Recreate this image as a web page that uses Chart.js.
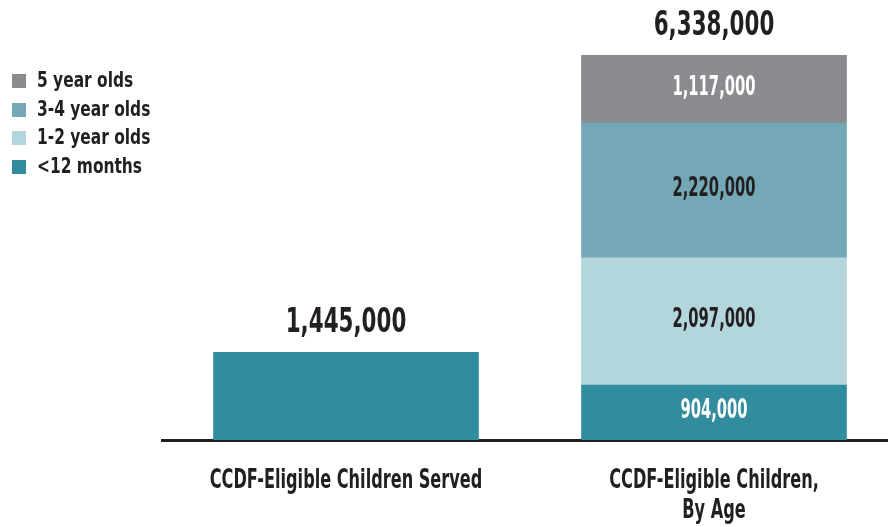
<!DOCTYPE html>
<html>
<head>
<meta charset="utf-8">
<script src="https://cdn.jsdelivr.net/npm/chart.js@4/dist/chart.umd.min.js"></script>
<style>
  body { margin: 0; overflow: hidden; background: #fff; }
  #wrap { position: relative; width: 888px; height: 527px; overflow: hidden; }
  #chart { position: absolute; left: 0; top: 0; }
  #legend { position: absolute; left: 12px; top: 66px; font-family: 'DejaVu Sans Condensed', 'Liberation Sans Narrow', sans-serif; font-weight: bold; font-size: 22px; color: #231f20; }
  #legend div { height: 28.5px; line-height: 28px; white-space: nowrap; }
  #legend span.box { display: inline-block; width: 14px; height: 14px; margin-right: 11px; vertical-align: -1px; }
  #legend span.txt { display: inline-block; transform: scaleX(0.78); transform-origin: left center; }
</style>
</head>
<body>
<div id="wrap">
  <canvas id="chart" width="898" height="527"></canvas>
  <div id="legend"></div>
</div>
<script>
const FONT = "'DejaVu Sans Condensed', 'Liberation Sans Narrow', sans-serif";

// data
const categories = [['CCDF-Eligible Children Served'], ['CCDF-Eligible Children,', 'By Age']];
const servedValues = [1445000, null];
const under12Values = [null, 904000];
const age12Values = [null, 2097000];
const age34Values = [null, 2220000];
const age5Values = [null, 1117000];

const TEAL = '#318d9e';
const LIGHT = '#b3d5dc';
const MID = '#74a8b7';
const GRAY = '#8a8b8f';
const INK = '#231f20';

const fmt = v => v.toLocaleString('en-US');

// legend, top item first
const legendItems = [
  { label: '5 year olds', color: GRAY },
  { label: '3-4 year olds', color: MID },
  { label: '1-2 year olds', color: LIGHT },
  { label: '<12 months', color: TEAL }
];
const legendEl = document.querySelector('#legend');
legendItems.forEach(item => {
  const row = document.createElement('div');
  const box = document.createElement('span');
  box.className = 'box';
  box.style.background = item.color;
  const txt = document.createElement('span');
  txt.className = 'txt';
  txt.textContent = item.label;
  row.appendChild(box);
  row.appendChild(txt);
  legendEl.appendChild(row);
});

// draws text squeezed horizontally, the original type is very condensed
const narrowText = (ctx, text, x, y, squeeze) => {
  ctx.save();
  ctx.translate(x, y);
  ctx.scale(squeeze, 1);
  ctx.fillText(text, 0, 0);
  ctx.restore();
};

// value labels inside segments, totals on top, category names under the axis
const valueLabels = {
  id: 'valueLabels',
  afterDatasetsDraw(chart) {
    const ctx = chart.ctx;
    ctx.save();
    ctx.textAlign = 'center';
    chart.data.datasets.forEach((ds, i) => {
      if (!ds.showInside) return;
      chart.getDatasetMeta(i).data.forEach((bar, j) => {
        const v = ds.data[j];
        if (v == null) return;
        ctx.font = 'bold 26px ' + FONT;
        ctx.fillStyle = ds.labelColor;
        ctx.textBaseline = 'middle';
        narrowText(ctx, fmt(v), bar.x, (bar.y + bar.base) / 2 - 1, 0.63);
      });
    });
    chart.data.labels.forEach((lbl, j) => {
      let total = 0, top = Infinity, x = 0;
      chart.data.datasets.forEach((ds, i) => {
        const v = ds.data[j];
        if (v == null) return;
        total += v;
        const bar = chart.getDatasetMeta(i).data[j];
        if (bar.y < top) { top = bar.y; x = bar.x; }
      });
      ctx.font = 'bold 34px ' + FONT;
      ctx.fillStyle = INK;
      ctx.textBaseline = 'alphabetic';
      narrowText(ctx, fmt(total), x, top - 20, 0.7);
    });
    // category names
    const xScale = chart.scales.x;
    ctx.font = 'bold 26px ' + FONT;
    ctx.fillStyle = INK;
    ctx.textBaseline = 'alphabetic';
    chart.data.labels.forEach((lines, j) => {
      const x = xScale.getPixelForTick(j);
      lines.forEach((line, k) => {
        narrowText(ctx, line, x, xScale.bottom - 39 + k * 30, 0.69);
      });
    });
    ctx.restore();
  }
};

const ctx = document.querySelector('#chart').getContext('2d');
const chart = new Chart(ctx, {
  type: 'bar',
  data: {
    labels: categories,
    datasets: [
      { label: 'Served', data: servedValues, backgroundColor: TEAL, showInside: false },
      { label: '<12 months', data: under12Values, backgroundColor: TEAL, showInside: true, labelColor: '#ffffff' },
      { label: '1-2 year olds', data: age12Values, backgroundColor: LIGHT, showInside: true, labelColor: INK },
      { label: '3-4 year olds', data: age34Values, backgroundColor: MID, showInside: true, labelColor: INK },
      { label: '5 year olds', data: age5Values, backgroundColor: GRAY, showInside: true, labelColor: '#ffffff' }
    ]
  },
  options: {
    responsive: false,
    animation: false,
    devicePixelRatio: 1,
    layout: { padding: { left: 162, right: 0, top: 0, bottom: 0 } },
    datasets: { bar: { barThickness: 265, skipNull: true } },
    plugins: { legend: { display: false }, tooltip: { enabled: false } },
    scales: {
      x: {
        stacked: true,
        grid: { display: false },
        border: { display: true, color: INK, width: 3 },
        ticks: { display: false },
        afterFit(scale) { scale.height = 87; }
      },
      y: {
        stacked: true,
        display: false,
        min: 0,
        max: 7250000
      }
    }
  },
  plugins: [valueLabels]
});
</script>
</body>
</html>
